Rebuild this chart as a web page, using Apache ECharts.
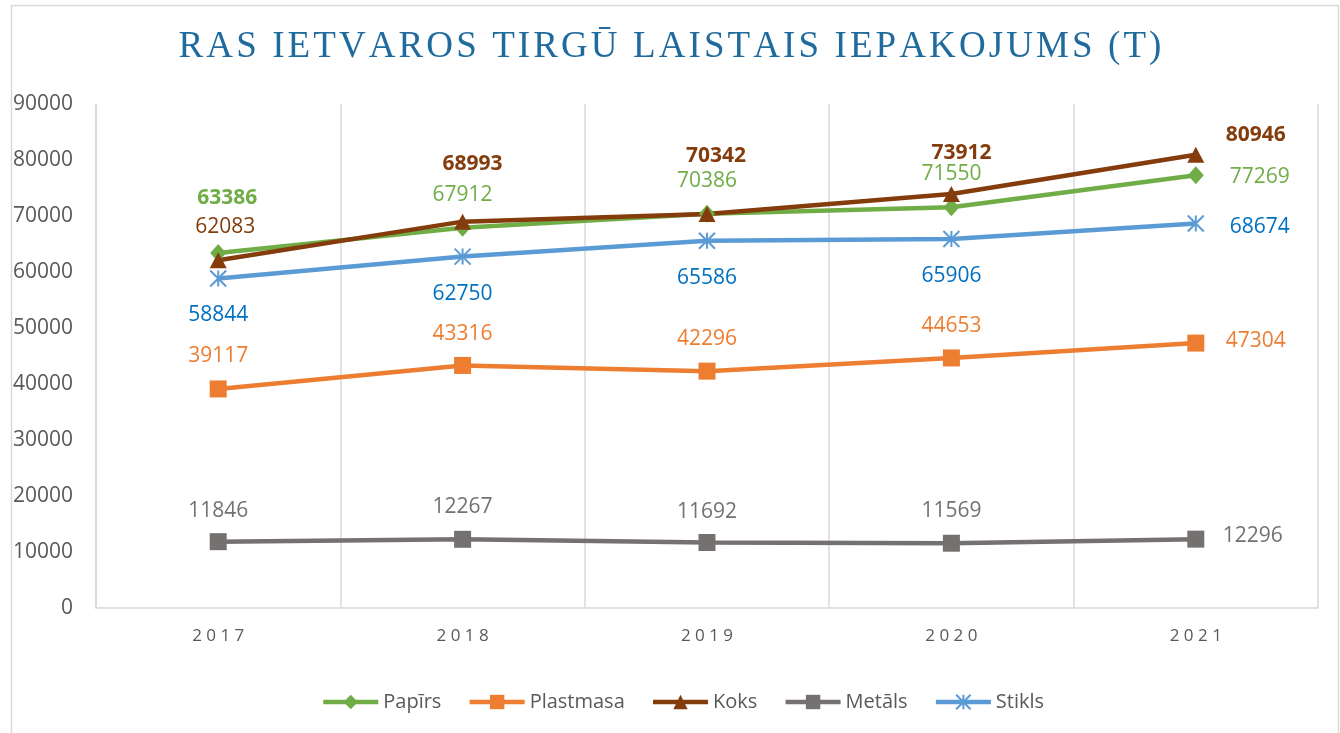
<!DOCTYPE html>
<html><head><meta charset="utf-8">
<script src="https://cdn.jsdelivr.net/npm/echarts@6/dist/echarts.min.js"></script>
<style>html,body{margin:0;padding:0;background:#fff}#c{width:1340px;height:733px}</style>
</head><body><div id="c"></div>
<script>
// ---- data ----
const titleText = 'RAS IETVAROS TIRGŪ LAISTAIS IEPAKOJUMS (T)';
const years = ['2017', '2018', '2019', '2020', '2021'];
const seriesNames = ['Papīrs', 'Plastmasa', 'Koks', 'Metāls', 'Stikls'];
const papirs = [63386, 67912, 70386, 71550, 77269];
const plastmasa = [39117, 43316, 42296, 44653, 47304];
const koks = [62083, 68993, 70342, 73912, 80946];
const metals = [11846, 12267, 11692, 11569, 12296];
const stikls = [58844, 62750, 65586, 65906, 68674];
const yMin = 0, yMax = 90000, yStep = 10000;

// ---- styles ----
const FONT = '"Open Sans", "Noto Sans", sans-serif';
const styles = {
  'Papīrs':   {line: '#70AD47', label: '#70AD47', symbol: 'diamond', size: [16, 18],
               offs: [[9,-55],[0,-33],[0,-33],[0,-33],[64,2]], bold: [true,false,false,false,false]},
  'Plastmasa':{line: '#ED7D31', label: '#ED7D31', symbol: 'rect', size: 17,
               offs: [[0,-33],[0,-31],[0,-32],[0,-32],[60,-2]], bold: [false,false,false,false,false]},
  'Koks':     {line: '#843C0C', label: '#843C0C', symbol: 'triangle', size: [17, 16],
               offs: [[7,-33],[10,-58],[9,-58],[10,-41],[60,-20]], bold: [false,true,true,true,true]},
  'Metāls':   {line: '#767171', label: '#767171', symbol: 'rect', size: 17,
               offs: [[0,-31],[0,-32],[0,-31],[0,-32],[57,-3]], bold: [false,false,false,false,false]},
  'Stikls':   {line: '#5B9BD5', label: '#0070C0', symbol: 'path://M0,0L16,16M16,0L0,16M8,0L8,16', size: 16,
               offs: [[0,37],[0,37],[0,37],[0,37],[64,4]], bold: [false,false,false,false,false]}
};
const valuesByName = {'Papīrs': papirs, 'Plastmasa': plastmasa, 'Koks': koks, 'Metāls': metals, 'Stikls': stikls};

function spaced(s, sep) { return s.split('').join(sep); }

const series = seriesNames.map(name => {
  const st = styles[name];
  const isStar = name === 'Stikls';
  return {
    name: name,
    type: 'line',
    data: valuesByName[name].map((v, i) => ({
      value: v,
      label: {
        show: true,
        position: 'inside',
        offset: st.offs[i],
        color: st.label,
        fontFamily: FONT,
        fontSize: 21,
        fontWeight: st.bold[i] ? 'bold' : 'normal'
      }
    })),
    symbol: st.symbol,
    symbolSize: st.size,
    showAllSymbol: true,
    lineStyle: {color: st.line, width: 4.5},
    itemStyle: isStar ? {color: st.line, borderColor: st.line, borderWidth: 2} : {color: st.line, borderWidth: 0},
    emphasis: {disabled: true},
    animation: false
  };
});

const chart = echarts.init(document.getElementById('c'), null, {renderer: 'canvas'});
chart.setOption({
  animation: false,
  backgroundColor: '#ffffff',
  graphic: [{
    type: 'rect', left: 9, top: 3, z: -10,
    shape: {width: 1327, height: 760},
    style: {fill: 'none', stroke: '#D9D9D9', lineWidth: 1.5}
  }],
  title: {
    text: spaced(titleText, '\u200A'),
    left: 'center',
    top: 24,
    textStyle: {fontFamily: '"Liberation Serif", "Times New Roman", serif', fontSize: 37, fontWeight: 'normal', color: '#1F6B9E'}
  },
  legend: {
    data: seriesNames,
    top: 687,
    left: 316,
    itemWidth: 55,
    itemHeight: 18,
    itemGap: 26,
    lineStyle: {width: 4.5},
    textStyle: {fontFamily: FONT, fontSize: 20, color: '#595959'}
  },
  grid: {left: 96, right: 22, top: 104, bottom: 125, containLabel: false},
  xAxis: {
    type: 'category',
    data: years,
    boundaryGap: true,
    axisLine: {show: true, lineStyle: {color: '#D9D9D9', width: 1.5}},
    axisTick: {show: false},
    splitLine: {show: true, lineStyle: {color: '#D9D9D9', width: 1.5}},
    axisLabel: {margin: 20, fontFamily: FONT, fontSize: 17, color: '#595959', formatter: v => spaced(v, ' ')}
  },
  yAxis: {
    type: 'value',
    min: yMin, max: yMax, interval: yStep,
    axisLine: {show: true, lineStyle: {color: '#D9D9D9', width: 1.5}},
    axisTick: {show: false},
    splitLine: {show: false},
    axisLabel: {margin: 23, fontFamily: FONT, fontSize: 21, color: '#595959', formatter: v => String(v)}
  },
  series: series
});
</script>
</body></html>
